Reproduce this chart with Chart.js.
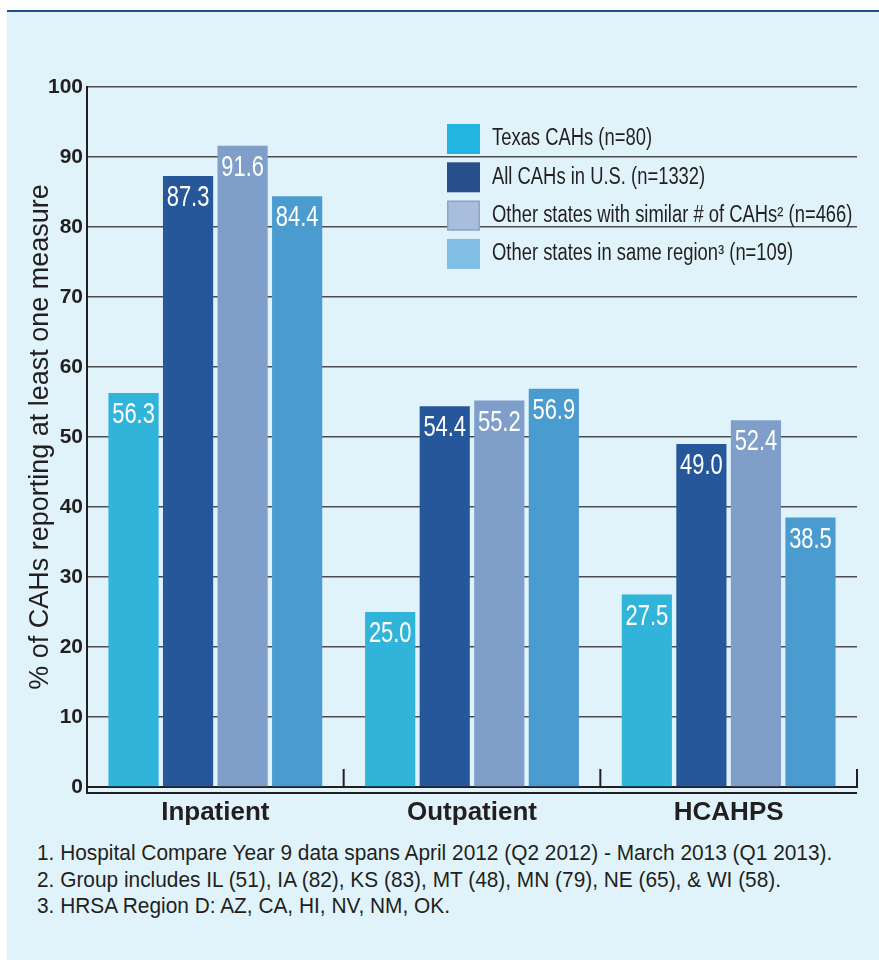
<!DOCTYPE html>
<html>
<head>
<meta charset="utf-8">
<script src="https://cdn.jsdelivr.net/npm/chart.js@4.4.1/dist/chart.umd.min.js"></script>
<style>
  html, body { margin: 0; padding: 0; background: #fff; }
  #panel {
    position: absolute; left: 7px; top: 10px; width: 872px; height: 950px;
    background: #e1f3fa; border-top: 2px solid #1f4f8b;
  }
  #wrap { position: absolute; left: 0; top: 0; width: 879px; height: 840px; }
  #notes {
    position: absolute; left: 37px; top: 840px;
    font-family: "Liberation Sans", Arial, sans-serif; font-size: 21.5px;
    color: #231f20; line-height: 26.5px;
    transform: scaleX(0.97); transform-origin: left top;
  }
</style>
</head>
<body>
<div id="panel"></div>
<div id="wrap"><canvas id="chart" width="879" height="840"></canvas></div>
<div id="notes">
  <div>1. Hospital Compare Year 9 data spans April 2012 (Q2 2012) - March 2013 (Q1 2013).</div>
  <div>2. Group includes IL (51), IA (82), KS (83), MT (48), MN (79), NE (65), &amp; WI (58).</div>
  <div>3. HRSA Region D: AZ, CA, HI, NV, NM, OK.</div>
</div>

<script>
// veriler
const categories = ['Inpatient', 'Outpatient', 'HCAHPS'];
const seriesNames = [
    'Texas CAHs (n=80)',
    'All CAHs in U.S. (n=1332)',
    'Other states with similar # of CAHs² (n=466)',
    'Other states in same region³ (n=109)'
];
const texasCAHs = [56.3, 25.0, 27.5];
const allCAHs = [87.3, 54.4, 49.0];
const similarStates = [91.6, 55.2, 52.4];
const sameRegion = [84.4, 56.9, 38.5];
const yTicks = [0, 10, 20, 30, 40, 50, 60, 70, 80, 90, 100];

const barColors = ['#30b4da', '#27579b', '#7f9fca', '#4a9bd0'];
const legendColors = ['#22b5e0', '#27508c', '#a9bddc', '#80bfe3'];
const baseFont = '"Liberation Sans", Arial, sans-serif';

// dar yazi icin yatay sikistirma
function narrowText(ctx, text, x, y, squeeze) {
    ctx.save();
    ctx.translate(x, y);
    ctx.scale(squeeze, 1);
    ctx.fillText(text, 0, 0);
    ctx.restore();
}

// degerleri cubuklarin icine yaz
const valueLabels = {
    id: 'valueLabels',
    afterDatasetsDraw(chart) {
        const ctx = chart.ctx;
        ctx.save();
        ctx.fillStyle = '#ffffff';
        ctx.font = '30px ' + baseFont;
        ctx.textAlign = 'center';
        ctx.textBaseline = 'middle';
        chart.data.datasets.forEach((ds, i) => {
            chart.getDatasetMeta(i).data.forEach((bar, j) => {
                narrowText(ctx, ds.data[j].toFixed(1), bar.x, bar.y + 22, 0.73);
            });
        });
        ctx.restore();
    }
};

// cift taban cizgisi ve kategori ayiraclari
const axisExtras = {
    id: 'axisExtras',
    afterDraw(chart) {
        const ctx = chart.ctx;
        const area = chart.chartArea;
        const x = chart.scales.x;
        const half = (x.getPixelForValue(1) - x.getPixelForValue(0)) / 2;
        ctx.save();
        ctx.strokeStyle = '#231f20';
        ctx.lineWidth = 2;
        ctx.beginPath();
        ctx.moveTo(area.left - 1, area.bottom + 6);
        ctx.lineTo(area.right, area.bottom + 6);
        for (let i = 0; i < categories.length; i++) {
            const sx = x.getPixelForValue(i) + half;
            ctx.moveTo(sx, area.bottom);
            ctx.lineTo(sx, area.bottom - 18);
        }
        ctx.moveTo(area.left, area.bottom);
        ctx.lineTo(area.left, area.bottom + 7);
        ctx.stroke();
        ctx.restore();
    }
};

// grafik icindeki lejant
const insideLegend = {
    id: 'insideLegend',
    afterDraw(chart) {
        const ctx = chart.ctx;
        const area = chart.chartArea;
        const left = area.left + 360;
        const top = area.top + 37;
        ctx.save();
        ctx.font = '23px ' + baseFont;
        ctx.textBaseline = 'middle';
        ctx.textAlign = 'left';
        seriesNames.forEach((name, i) => {
            const y = top + i * 38.3;
            ctx.fillStyle = legendColors[i];
            ctx.fillRect(left, y, 33, 30);
            if (i === 2) {
                ctx.strokeStyle = '#8ea5c8';
                ctx.lineWidth = 1.5;
                ctx.strokeRect(left + 0.75, y + 0.75, 31.5, 28.5);
            }
            ctx.fillStyle = '#231f20';
            narrowText(ctx, name, left + 45, y + 15, 0.8);
        });
        ctx.restore();
    }
};

const ctx = document.getElementById('chart').getContext('2d');
new Chart(ctx, {
    type: 'bar',
    data: {
        labels: categories,
        datasets: [texasCAHs, allCAHs, similarStates, sameRegion].map((d, i) => ({
            label: seriesNames[i],
            data: d,
            backgroundColor: barColors[i],
            borderWidth: 0,
            categoryPercentage: 0.85,
            barPercentage: 0.92
        }))
    },
    options: {
        responsive: false,
        animation: false,
        layout: { padding: { left: 0, top: 87, right: 22, bottom: 0 } },
        plugins: {
            legend: { display: false },
            tooltip: { enabled: false }
        },
        scales: {
            x: {
                afterFit(scale) { scale.height = 53; },
                grid: { display: false, drawTicks: false },
                border: { color: '#231f20', width: 2 },
                ticks: {
                    padding: 10,
                    color: '#231f20',
                    font: { family: baseFont, size: 26, weight: 'bold' }
                }
            },
            y: {
                min: 0,
                max: 100,
                afterFit(scale) { scale.width = 87; },
                afterBuildTicks(scale) { scale.ticks = yTicks.map(v => ({ value: v })); },
                grid: { color: '#4d4d4f', lineWidth: 1.5, drawTicks: false },
                border: { color: '#231f20', width: 2 },
                ticks: {
                    padding: 4,
                    color: '#231f20',
                    font: { family: baseFont, size: 21, weight: 'bold' }
                },
                title: {
                    display: true,
                    text: '% of CAHs reporting at least one measure',
                    color: '#231f20',
                    padding: { top: 24, bottom: 0 },
                    font: { family: baseFont, size: 27 }
                }
            }
        }
    },
    plugins: [valueLabels, axisExtras, insideLegend]
});
</script>
</body>
</html>
